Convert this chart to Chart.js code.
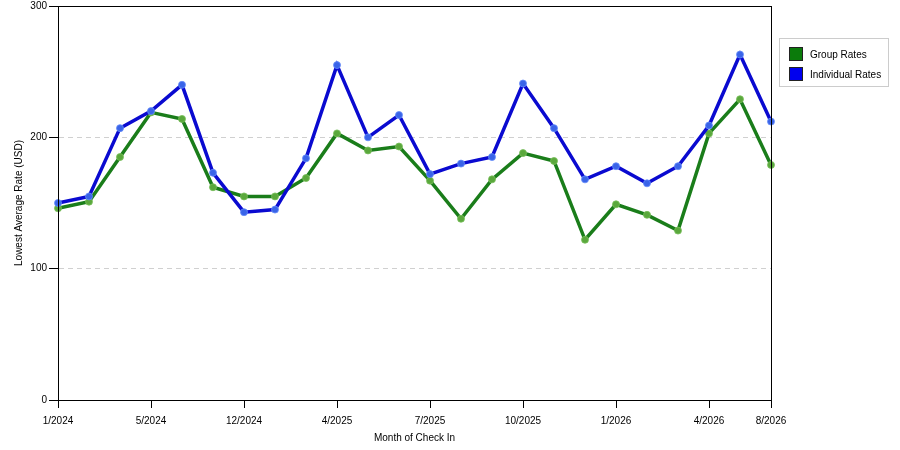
<!DOCTYPE html>
<html>
<head>
<meta charset="utf-8">
<script src="https://cdn.jsdelivr.net/npm/chart.js@4.4.1/dist/chart.umd.min.js"></script>
<style>
    html, body { margin: 0; padding: 0; background: #fff; }
    #wrap { position: relative; width: 900px; height: 450px; }
    #legend {
        position: absolute; left: 779px; top: 38px; width: 108px; height: 47px;
        border: 1px solid #ccc; font: 10px "Liberation Sans", Arial, sans-serif; color: #000;
    }
    .item { position: absolute; left: 9px; height: 14px; line-height: 14px; }
    .item span.box { position: absolute; left: 0; top: 0; width: 12px; height: 12px; border: 1px solid #222; }
    .item span.txt { position: absolute; left: 21px; top: 1px; white-space: nowrap; }
</style>
</head>
<body>
<div id="wrap">
    <canvas id="rateChart" width="900" height="450"></canvas>
    <div id="legend"></div>
</div>
<script>
const months = ['1/2024', '3/2024', '4/2024', '5/2024', '6/2024', '8/2024',
    '12/2024', '1/2025', '3/2025', '4/2025', '5/2025', '6/2025',
    '7/2025', '8/2025', '9/2025', '10/2025', '11/2025', '12/2025',
    '1/2026', '2/2026', '3/2026', '4/2026', '5/2026', '8/2026'];
const shownTicks = ['1/2024', '5/2024', '12/2024', '4/2025', '7/2025', '10/2025', '1/2026', '4/2026', '8/2026'];
const groupRates = [146, 151, 185, 219, 214, 162, 155, 155, 169, 203, 190, 193,
    167, 138, 168, 188, 182, 122, 149, 141, 129, 203, 229, 179];
const individualRates = [150, 155, 207, 220, 240, 173, 143, 145, 184, 255, 200, 217,
    172, 180, 185, 241, 207, 168, 178, 165, 178, 209, 263, 212];
const yTicks = [0, 100, 200, 300];

const seriesNames = ['Group Rates', 'Individual Rates'];
const lineColors = ['#1a7d1a', '#0a0ad0'];
const pointColors = ['#5aa83c', '#3a64e8'];
const legendColors = ['#0b7b0b', '#0000ee'];

// frame round the plot area (top and right sides)
const framePlugin = {
    id: 'frame',
    afterDatasetsDraw(chart) {
        const a = chart.chartArea;
        const ctx = chart.ctx;
        ctx.save();
        ctx.strokeStyle = '#000';
        ctx.lineWidth = 1;
        ctx.strokeRect(Math.round(a.left) + 0.5, Math.round(a.top) + 0.5,
            Math.round(a.right - a.left), Math.round(a.bottom - a.top));
        ctx.restore();
    }
};

const font = { family: '"Liberation Sans", Arial, sans-serif', size: 10 };

new Chart(document.getElementById('rateChart'), {
    type: 'line',
    data: {
        labels: months,
        datasets: [
            {
                label: seriesNames[0],
                data: groupRates,
                borderColor: lineColors[0],
                backgroundColor: legendColors[0],
                pointBackgroundColor: pointColors[0],
                pointBorderColor: 'rgba(120,190,90,0.8)',
                borderWidth: 3.5,
                pointRadius: 3.5,
                pointBorderWidth: 1,
                tension: 0,
                order: 1
            },
            {
                label: seriesNames[1],
                data: individualRates,
                borderColor: lineColors[1],
                backgroundColor: legendColors[1],
                pointBackgroundColor: pointColors[1],
                pointBorderColor: 'rgba(100,140,250,0.8)',
                borderWidth: 3.5,
                pointRadius: 3.5,
                pointBorderWidth: 1,
                tension: 0,
                order: 0
            }
        ]
    },
    options: {
        responsive: false,
        animation: false,
        layout: { padding: { top: 5, right: 129, bottom: 0, left: 0 } },
        plugins: {
            legend: { display: false },
            tooltip: { enabled: false }
        },
        scales: {
            x: {
                type: 'category',
                offset: false,
                afterFit: scale => { scale.height = 50; },
                border: { color: '#000', width: 1 },
                grid: {
                    drawOnChartArea: false,
                    drawTicks: true,
                    tickLength: 8,
                    tickColor: '#000'
                },
                ticks: {
                    autoSkip: false,
                    maxRotation: 0,
                    padding: 7,
                    color: '#000',
                    font: font,
                    callback: function (value) {
                        const lab = this.getLabelForValue(value);
                        return shownTicks.includes(lab) ? lab : null;
                    }
                },
                title: {
                    display: true,
                    text: 'Month of Check In',
                    color: '#000',
                    font: font,
                    padding: { top: 0, bottom: 6 }
                }
            },
            y: {
                min: 0,
                max: 300,
                afterFit: scale => { scale.width = 58; },
                afterBuildTicks: scale => { scale.ticks = yTicks.map(v => ({ value: v })); },
                border: { color: '#000', width: 1, dash: [5, 4] },
                grid: {
                    color: ctx => (ctx.tick && (ctx.tick.value === 0 || ctx.tick.value === 300)) ? 'rgba(0,0,0,0)' : '#d0d0d0',
                    tickColor: '#000',
                    tickLength: 9,
                    tickBorderDash: []
                },
                ticks: {
                    padding: 2,
                    color: '#000',
                    font: { family: font.family, size: 10, lineHeight: 0.8 }
                },
                title: {
                    display: true,
                    text: 'Lowest Average Rate (USD)',
                    color: '#000',
                    font: font,
                    padding: { top: 13, bottom: 0 }
                }
            }
        }
    },
    plugins: [framePlugin]
});

// legend box on the right
const legend = document.getElementById('legend');
seriesNames.forEach((name, i) => {
    const row = document.createElement('div');
    row.className = 'item';
    row.style.top = (8 + i * 20) + 'px';
    row.innerHTML = '<span class="box" style="background:' + legendColors[i] + '"></span><span class="txt">' + name + '</span>';
    legend.appendChild(row);
});
</script>
</body>
</html>
